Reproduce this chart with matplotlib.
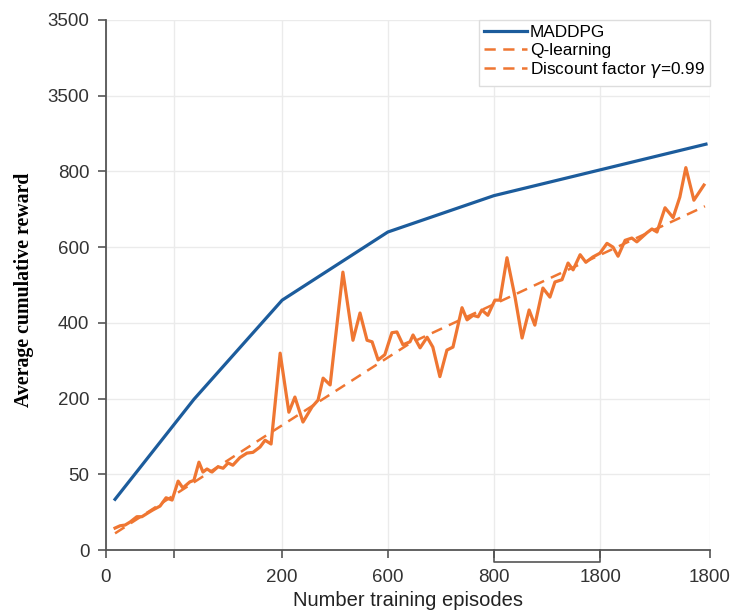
import matplotlib
matplotlib.use('Agg')
import matplotlib.pyplot as plt
import numpy as np

plt.rcParams['font.family'] = ['Liberation Sans', 'DejaVu Sans']

# axis ticks (positions on the episode axis, labels as printed)
xticks = [0, 203, 525, 840, 1157, 1473, 1800]
xlabels = ['0', '', '200', '600', '800', '1800', '1800']
yticks = [0, 1, 2, 3, 4, 5, 6, 7]
ylabels = ['0', '50', '200', '400', '600', '800', '3500', '3500']

# MADDPG
maddpg_x = [27, 262, 525, 840, 1156, 1472, 1788]
maddpg_y = [0.67, 1.99, 3.30, 4.20, 4.68, 5.02, 5.36]

# Q-learning (noisy)
ql_x = [27, 42, 57, 72, 92, 107, 125, 140, 161, 179, 197, 215, 229, 250, 262,
        277, 289, 301, 316, 334, 349, 364, 378, 399, 420, 438, 459, 474, 492,
        519, 545, 563, 587, 614, 632, 647, 668, 706, 736, 757, 778, 793, 811,
        831, 852, 867, 885, 906, 915, 936, 957, 974, 995, 1016, 1034, 1061,
        1076, 1094, 1109, 1120, 1138, 1159, 1174, 1195, 1219, 1240, 1261, 1278,
        1302, 1323, 1338, 1359, 1377, 1392, 1413, 1430, 1451, 1472, 1493, 1511,
        1526, 1547, 1567, 1582, 1597, 1612, 1627, 1642, 1666, 1690, 1710, 1728,
        1752, 1782]
ql_y = [0.29, 0.32, 0.33, 0.37, 0.44, 0.44, 0.49, 0.53, 0.58, 0.69, 0.66, 0.91,
        0.82, 0.90, 0.92, 1.16, 1.03, 1.07, 1.03, 1.10, 1.08, 1.15, 1.12, 1.22,
        1.28, 1.29, 1.36, 1.45, 1.40, 2.60, 1.82, 2.02, 1.69, 1.89, 1.98, 2.27,
        2.18, 3.67, 2.77, 3.13, 2.77, 2.75, 2.51, 2.58, 2.87, 2.88, 2.71, 2.75,
        2.84, 2.67, 2.81, 2.68, 2.29, 2.64, 2.68, 3.20, 3.04, 3.10, 3.08, 3.17,
        3.10, 3.30, 3.30, 3.86, 3.34, 2.80, 3.17, 2.97, 3.46, 3.34, 3.54, 3.57,
        3.79, 3.70, 3.90, 3.80, 3.87, 3.92, 4.05, 4.00, 3.88, 4.09, 4.12, 4.07,
        4.13, 4.19, 4.24, 4.20, 4.52, 4.39, 4.66, 5.05, 4.62, 4.82]

# trend (discount factor)
trend_x = [27, 480, 906, 1323, 1785]
trend_y = [0.22, 1.52, 2.73, 3.59, 4.54]

blue = '#1c5c9c'
orange = '#ef7632'

fig = plt.figure(figsize=(7.34, 6.11), dpi=100)
ax = fig.add_axes([0.1444, 0.0998, 0.8229, 0.8675])

ax.plot(maddpg_x, maddpg_y, '-', color=blue, lw=2.3, label='MADDPG', zorder=4)
ax.plot(ql_x, ql_y, '-', color=orange, lw=2.3, zorder=3)
ax.plot(trend_x, trend_y, '--', color=orange, lw=1.8, dashes=(4.5, 3),
        zorder=3, label='Q-learning')
ax.plot([], [], '--', color=orange, lw=1.8, dashes=(4.5, 3),
        label=r'Discount factor $\gamma$=0.99')

ax.set_xlim(0, 1800)
ax.set_ylim(0, 7)
ax.set_xticks(xticks)
ax.set_xticklabels(xlabels)
ax.set_yticks(yticks)
ax.set_yticklabels(ylabels)

ax.grid(True, color='#ebebeb', lw=1)
ax.set_axisbelow(True)
for s in ['top', 'right']:
    ax.spines[s].set_visible(False)
for s in ['left', 'bottom']:
    ax.spines[s].set_color('#555555')
    ax.spines[s].set_linewidth(1.3)
ax.tick_params(axis='both', colors='#555555', width=1.2, length=6,
               labelsize=13.5, labelcolor='#333333')
ax.tick_params(axis='x', pad=8)
ax.tick_params(axis='y', pad=6)

# bracket under the 800-1800 ticks
ax.plot([xticks[4], xticks[4], xticks[5], xticks[5]],
        [0, -0.16, -0.16, 0], color='#555555', lw=1.2, clip_on=False)

ax.set_xlabel('Number training episodes', fontsize=14.5, color='#222222',
              labelpad=3)
ax.set_ylabel('Average cumulative reward', fontsize=14.3, fontweight='bold',
              family='Liberation Serif')
ax.yaxis.set_label_coords(-0.12, 0.49)

leg = ax.legend(loc='upper right', fontsize=12.4, frameon=True, fancybox=False,
                borderaxespad=0, handlelength=2.5, handletextpad=0.15,
                labelspacing=0.15, borderpad=0.3, framealpha=1)
leg.get_frame().set_edgecolor('#dddddd')
leg.get_frame().set_linewidth(1)

plt.savefig('out.png', dpi=100)
